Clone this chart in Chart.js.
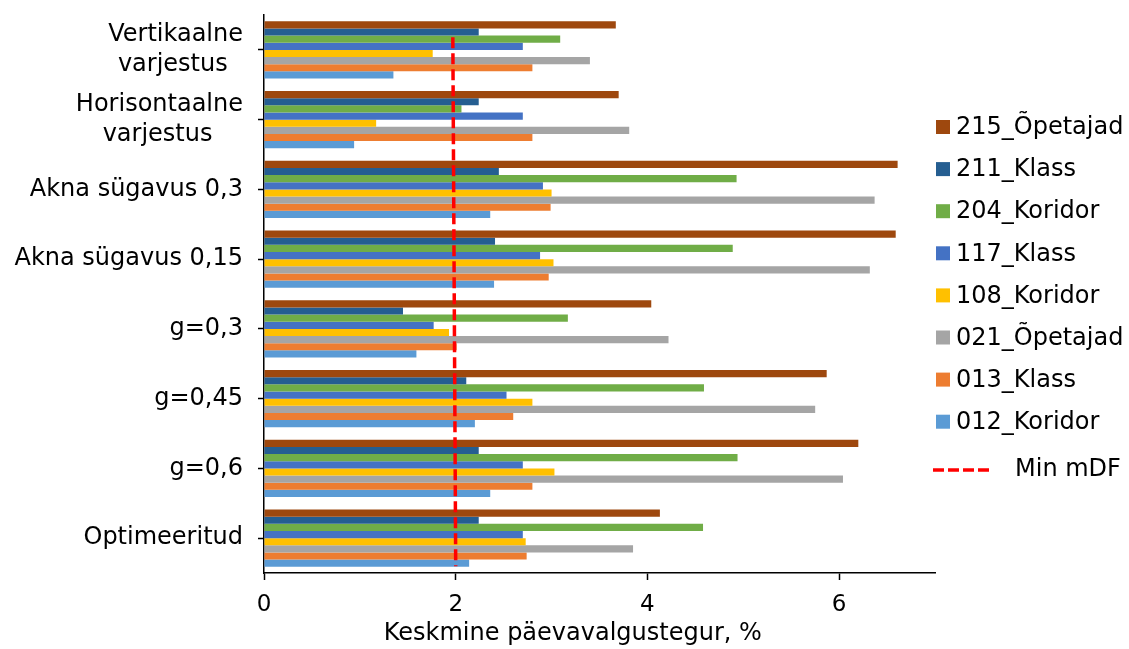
<!DOCTYPE html>
<html>
<head>
<meta charset="utf-8">
<script src="https://cdn.jsdelivr.net/npm/chart.js@4"></script>
<style>
  html, body { margin: 0; padding: 0; background: #fff; }
  #wrap { width: 1129px; height: 649px; position: relative; }
</style>
</head>
<body>
<div id="wrap"><canvas id="c"></canvas></div>
<script>
// Categories (top to bottom)
const categories = [
  ['Vertikaalne', 'varjestus  '],
  ['Horisontaalne', 'varjestus    '],
  'Akna sügavus 0,3',
  'Akna sügavus 0,15',
  'g=0,3',
  'g=0,45',
  'g=0,6',
  'Optimeeritud'
];

// Series values (one value per category, same order as categories)
const s215_Opetajad = [3.67, 3.70, 6.61, 6.59, 4.04, 5.87, 6.20, 4.13];
const s211_Klass    = [2.24, 2.24, 2.45, 2.41, 1.45, 2.11, 2.24, 2.24];
const s204_Koridor  = [3.09, 2.06, 4.93, 4.89, 3.17, 4.59, 4.94, 4.58];
const s117_Klass    = [2.70, 2.70, 2.91, 2.88, 1.77, 2.53, 2.70, 2.70];
const s108_Koridor  = [1.76, 1.17, 3.00, 3.02, 1.93, 2.80, 3.03, 2.73];
const s021_Opetajad = [3.40, 3.81, 6.37, 6.32, 4.22, 5.75, 6.04, 3.85];
const s013_Klass    = [2.80, 2.80, 2.99, 2.97, 2.01, 2.60, 2.80, 2.74];
const s012_Koridor  = [1.35, 0.94, 2.36, 2.40, 1.59, 2.20, 2.36, 2.14];

const seriesNames  = ['215_Õpetajad', '211_Klass', '204_Koridor', '117_Klass', '108_Koridor', '021_Õpetajad', '013_Klass', '012_Koridor'];
const seriesValues = [s215_Opetajad, s211_Klass, s204_Koridor, s117_Klass, s108_Koridor, s021_Opetajad, s013_Klass, s012_Koridor];
const seriesColors = ['#9E480E', '#255E91', '#70AD47', '#4472C4', '#FFC000', '#A5A5A5', '#ED7D31', '#5B9BD5'];

// Min mDF reference line (x value, position along a hidden 0-100 vertical axis)
const minMdfName = 'Min mDF';
const minMdfX = [1.97, 2.0];
const minMdfY = [96, 1.2];

// X axis
const xMin = 0, xMax = 7, xStep = 2;
const xTitle = 'Keskmine päevavalgustegur, %';

const datasets = seriesNames.map((name, i) => ({
  type: 'bar',
  label: name,
  data: seriesValues[i],
  backgroundColor: seriesColors[i],
  borderWidth: 0,
  indexAxis: 'y',
  xAxisID: 'x',
  yAxisID: 'y',
  categoryPercentage: 0.82,
  barPercentage: 1.0,
  order: 2
}));
datasets.push({
  type: 'line',
  label: minMdfName,
  data: minMdfX.map((x, i) => ({ x: x, y: minMdfY[i] })),
  borderColor: '#FF0000',
  borderWidth: 3.5,
  borderDash: [11, 5],
  pointRadius: 0,
  fill: false,
  xAxisID: 'x',
  yAxisID: 'y2',
  order: 1
});

const sideLegend = {
  id: 'sideLegend',
  afterDraw(chart) {
    const ctx = chart.ctx;
    const ca = chart.chartArea;
    const x0 = ca.right + 1;
    const y0 = 127, step = 42.1;
    ctx.save();
    ctx.font = '24px "DejaVu Sans"';
    ctx.textBaseline = 'middle';
    ctx.textAlign = 'left';
    seriesNames.forEach((name, i) => {
      const y = y0 + i * step;
      ctx.fillStyle = seriesColors[i];
      ctx.fillRect(x0, y - 7, 14, 14);
      ctx.fillStyle = '#000';
      ctx.fillText(name, x0 + 20, y + 1);
    });
    const yl = 470;
    ctx.strokeStyle = '#FF0000';
    ctx.lineWidth = 3.5;
    ctx.setLineDash([11, 4]);
    ctx.beginPath();
    ctx.moveTo(x0 - 3, yl);
    ctx.lineTo(x0 + 53, yl);
    ctx.stroke();
    ctx.setLineDash([]);
    ctx.fillStyle = '#000';
    ctx.fillText(minMdfName, x0 + 79, yl);
    ctx.restore();
  }
};

function zeroPad(scale) {
  scale.paddingTop = 0;
  scale.paddingBottom = 0;
  scale.paddingLeft = 0;
  scale.paddingRight = 0;
}

new Chart(document.getElementById('c'), {
  type: 'bar',
  data: { labels: categories, datasets: datasets },
  options: {
    responsive: true,
    maintainAspectRatio: false,
    animation: false,
    layout: { padding: { left: 0, right: 194, top: 15, bottom: 0 } },
    plugins: {
      legend: { display: false },
      tooltip: { enabled: false }
    },
    scales: {
      x: {
        type: 'linear',
        position: 'bottom',
        offset: false,
        min: xMin,
        max: xMax,
        ticks: {
          stepSize: xStep,
          includeBounds: false,
          color: '#000',
          padding: 11,
          font: { family: '"DejaVu Sans"', size: 23 }
        },
        grid: {
          offset: false,
          drawOnChartArea: false,
          drawTicks: true,
          tickLength: 7,
          tickColor: '#000',
          tickWidth: 1.5
        },
        border: { display: true, color: '#000', width: 1.5 },
        title: {
          display: true,
          text: xTitle + '       ',
          color: '#000',
          padding: { top: 0, bottom: 1 },
          font: { family: '"DejaVu Sans"', size: 24 }
        },
        afterFit(scale) { scale.height = 76; zeroPad(scale); }
      },
      y: {
        type: 'category',
        position: 'left',
        offset: true,
        ticks: {
          color: '#000',
          padding: 15,
          font: { family: '"DejaVu Sans"', size: 24, lineHeight: 1.25 }
        },
        grid: {
          offset: false,
          drawOnChartArea: false,
          drawTicks: true,
          tickLength: 6,
          tickColor: '#000',
          tickWidth: 1.5
        },
        border: { display: true, color: '#000', width: 1.5 },
        afterFit(scale) { scale.width = 264; zeroPad(scale); }
      },
      y2: {
        type: 'linear',
        display: false,
        min: 0,
        max: 100
      }
    }
  },
  plugins: [sideLegend]
});
</script>
</body>
</html>
